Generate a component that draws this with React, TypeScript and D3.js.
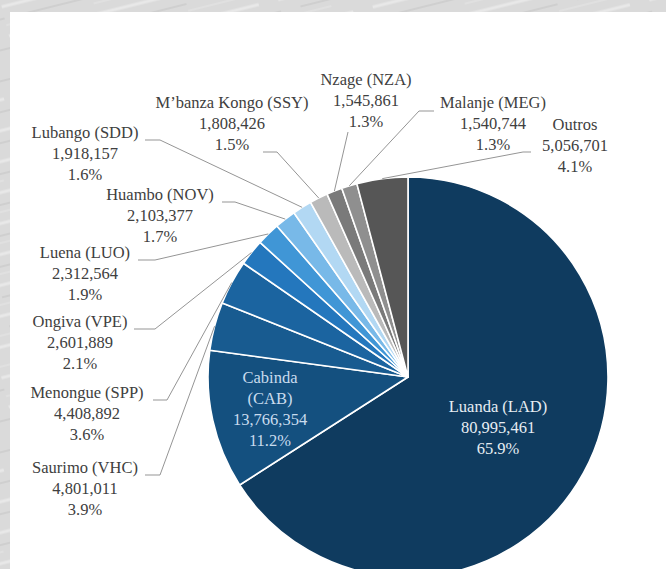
import { arc, format, pie, PieArcDatum } from "d3";

// passengers by airport
const names = [
    "Luanda (LAD)", "Cabinda (CAB)", "Saurimo (VHC)", "Menongue (SPP)", "Ongiva (VPE)", "Luena (LUO)",
    "Huambo (NOV)", "Lubango (SDD)", "M’banza Kongo (SSY)", "Nzage (NZA)", "Malanje (MEG)", "Outros",
];
const values = [
    80995461, 13766354, 4801011, 4408892, 2601889, 2312564,
    2103377, 1918157, 1808426, 1545861, 1540744, 5056701,
];
const colors = [
    "#0f3b5f", "#14507f", "#185b90", "#1b64a0", "#2477bd", "#4096d6",
    "#78b9e8", "#b2d8f3", "#bababa", "#7a7a7a", "#8f8f8f", "#565656",
];

// label placement: text centre, first line y, stub start/end (for outside labels)
type Place = { cx: number; y: number; inside?: boolean; split?: boolean; sx?: number; sy?: number; ex?: number };
const places: Place[] = [
    { cx: 498, y: 412, inside: true },
    { cx: 270, y: 383, inside: true, split: true },
    { cx: 85, y: 473, sx: 145, sy: 475, ex: 160 },
    { cx: 87, y: 398, sx: 153, sy: 400, ex: 167 },
    { cx: 80, y: 327, sx: 134, sy: 329, ex: 155 },
    { cx: 85, y: 258, sx: 138, sy: 260, ex: 155 },
    { cx: 160, y: 200, sx: 222, sy: 202, ex: 235 },
    { cx: 85, y: 138, sx: 145, sy: 140, ex: 160 },
    { cx: 232, y: 108, sx: 263, sy: 152, ex: 277 },
    { cx: 366, y: 85, sx: 348, sy: 132, ex: 348 },
    { cx: 493, y: 108, sx: 434, sy: 111, ex: 419 },
    { cx: 575, y: 130, sx: 531, sy: 152, ex: 523 },
];

const W = 666;
const H = 569;
const cx = 408;
const cy = 377;
const R = 200;
const lineH = 21;
const serif = "'Liberation Serif', 'Times New Roman', serif";

export default function App() {
    const total = values.reduce((a, b) => a + b, 0);
    const data = names.map((name, i) => ({ name, value: values[i], color: colors[i] }));
    type D = (typeof data)[number];

    const arcs = pie<D>().sort(null).value(d => d.value)(data);
    const arcGen = arc<PieArcDatum<D>>().innerRadius(0).outerRadius(R);
    const fmtN = format(",");
    const fmtP = format(".1%");

    const edge = (a: PieArcDatum<D>) => {
        const m = (a.startAngle + a.endAngle) / 2;
        return [cx + R * Math.sin(m), cy - R * Math.cos(m)];
    };

    return (
        <svg width={W} height={H} style={{ position: "absolute", left: 0, top: 0, fontFamily: serif }}>
            <defs>
                <pattern id="tex" width="90" height="30" patternUnits="userSpaceOnUse" patternTransform="rotate(-14)">
                    <rect width="90" height="30" fill="#dadada" />
                    <line x1="0" y1="7" x2="70" y2="7" stroke="#e8e8e8" strokeWidth="3" />
                    <line x1="20" y1="19" x2="90" y2="19" stroke="#cfcfcf" strokeWidth="2" />
                    <line x1="0" y1="26" x2="50" y2="26" stroke="#e3e3e3" strokeWidth="1.5" />
                </pattern>
            </defs>
            <rect width={W} height={H} fill="url(#tex)" />
            <rect x={10} y={12} width={W - 10} height={H - 12} fill="#ffffff" />

            <g transform={`translate(${cx},${cy})`}>
                {arcs.map(a => (
                    <path key={a.data.name} d={arcGen(a) ?? ""} fill={a.data.color}
                        stroke="#ffffff" strokeWidth={1.6} strokeLinejoin="round" />
                ))}
            </g>

            {arcs.map((a, i) => {
                const p = places[i];
                if (p.inside || p.sx === undefined) return null;
                const [x2, y2] = edge(a);
                return (
                    <polyline key={`ld-${i}`} fill="none" stroke="#959595" strokeWidth={1}
                        points={`${p.sx},${p.sy} ${p.ex},${p.sy} ${x2},${y2}`} />
                );
            })}

            {arcs.map((a, i) => {
                const p = places[i];
                const d = a.data;
                const lines = p.split
                    ? [d.name.split(" ")[0], d.name.split(" ")[1], fmtN(d.value), fmtP(d.value / total)]
                    : [d.name, fmtN(d.value), fmtP(d.value / total)];
                return (
                    <text key={`lb-${i}`} textAnchor="middle" fontSize={16.5} fontFamily={serif}
                        fill={p.inside ? (i === 0 ? "#e6edf3" : "#c9dcee") : "#404040"}>
                        {lines.map((t, k) => (
                            <tspan key={k} x={p.cx} y={p.y + k * lineH}>{t}</tspan>
                        ))}
                    </text>
                );
            })}
        </svg>
    );
}
